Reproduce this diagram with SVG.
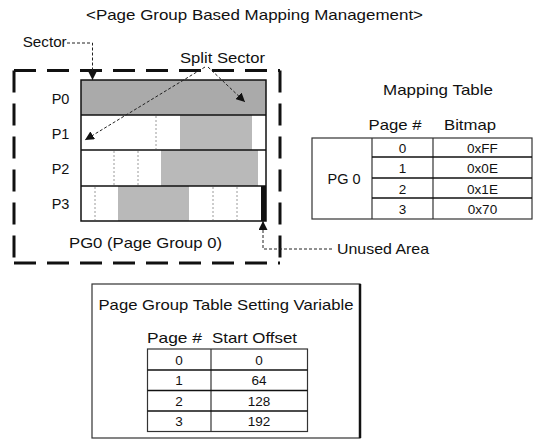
<svg xmlns="http://www.w3.org/2000/svg" width="537" height="440" viewBox="0 0 537 440">
<style>
text{font-family:"Liberation Sans",Arial,sans-serif;font-size:14.5px;fill:#111}
.sm{font-size:13.5px}
.mid{text-anchor:middle}
.grid{fill:none;stroke:#111;stroke-width:1.5}
.shade{fill:#b9b9b9}
.dark{fill:#aaaaaa}
.dot{stroke:#9a9a9a;stroke-width:1;stroke-dasharray:2 2}
.frame{fill:none;stroke:#111;stroke-width:3;stroke-dasharray:22 11}
.conn{fill:none;stroke:#222;stroke-width:1;stroke-dasharray:3 2}
.tbl{fill:none;stroke:#333;stroke-width:1.2}
.row{stroke:#111;stroke-width:1.6}
</style>
<defs>
<marker id="ah" markerUnits="userSpaceOnUse" markerWidth="9" markerHeight="9" viewBox="0 0 10 10" refX="10" refY="5" orient="auto"><path d="M0,0 L10,5 L0,10 z" fill="#111"/></marker>
</defs>

<text id="title" x="254.5" y="20" class="mid" textLength="337" lengthAdjust="spacingAndGlyphs">&lt;Page Group Based Mapping Management&gt;</text>

<g id="frame">
<path class="frame" d="M14,70.5 H280"/>
<path class="frame" d="M14,70.5 V263"/>
<path class="frame" d="M280,70.5 V263"/>
<path class="frame" d="M14,263 H280"/>
</g>

<g id="pg0">
<rect class="dark" x="81" y="80" width="185" height="35"/>
<rect class="shade" x="180" y="115" width="72" height="35"/>
<rect class="shade" x="161" y="150" width="97" height="36"/>
<rect class="shade" x="118" y="186" width="71" height="35"/>
<rect x="261" y="186" width="5" height="35" fill="#111"/>
<line class="dot" x1="156" y1="116" x2="156" y2="149"/>
<line class="dot" x1="114" y1="151" x2="114" y2="185"/>
<line class="dot" x1="138" y1="151" x2="138" y2="185"/>
<line class="dot" x1="95" y1="187" x2="95" y2="220"/>
<line class="dot" x1="213" y1="187" x2="213" y2="220"/>
<line class="dot" x1="237" y1="187" x2="237" y2="220"/>
<rect class="grid" x="81" y="80" width="185" height="141"/>
<line class="grid" x1="81" y1="115" x2="266" y2="115"/>
<line class="grid" x1="81" y1="150" x2="266" y2="150"/>
<line class="grid" x1="81" y1="186" x2="266" y2="186"/>
<text x="60.5" y="103.5" class="mid">P0</text>
<text x="60.5" y="139" class="mid">P1</text>
<text x="60.5" y="174" class="mid">P2</text>
<text x="60.5" y="209" class="mid">P3</text>
<text x="145.5" y="248" class="mid" textLength="153" lengthAdjust="spacingAndGlyphs">PG0 (Page Group 0)</text>
</g>

<g id="sector-label"><text x="22.7" y="47" textLength="44" lengthAdjust="spacingAndGlyphs">Sector</text></g>
<g id="split-label"><text x="180" y="63" textLength="85" lengthAdjust="spacingAndGlyphs">Split Sector</text></g>
<g id="unused-label"><text x="337" y="254" textLength="92" lengthAdjust="spacingAndGlyphs">Unused Area</text></g>

<g id="connectors">
<path class="conn" d="M67,43 H92.5 V80" marker-end="url(#ah)"/>
<path class="conn" d="M208,67 L245,102" marker-end="url(#ah)"/>
<path class="conn" d="M205,67 L85,140" marker-end="url(#ah)"/>
<path class="conn" d="M332,249 H263 V221" marker-end="url(#ah)"/>
</g>

<g id="mapping-table">
<text x="438" y="95" class="mid" textLength="110" lengthAdjust="spacingAndGlyphs">Mapping Table</text>
<text x="395" y="130" class="mid" textLength="53" lengthAdjust="spacingAndGlyphs">Page #</text>
<text x="470" y="130" class="mid" textLength="52" lengthAdjust="spacingAndGlyphs">Bitmap</text>
<rect class="tbl" x="312" y="138" width="220" height="81"/>
<line class="tbl" x1="372" y1="138" x2="372" y2="219"/>
<line class="tbl" x1="433" y1="138" x2="433" y2="219"/>
<line class="row" x1="372" y1="157" x2="532" y2="157"/>
<line class="row" x1="372" y1="178" x2="532" y2="178"/>
<line class="row" x1="372" y1="198" x2="532" y2="198"/>
<text x="344" y="184" class="mid">PG 0</text>
<text x="402.5" y="152.5" class="mid sm">0</text>
<text x="402.5" y="173" class="mid sm">1</text>
<text x="402.5" y="193.5" class="mid sm">2</text>
<text x="402.5" y="214" class="mid sm">3</text>
<text x="482.5" y="152.5" class="mid sm">0xFF</text>
<text x="482.5" y="173" class="mid sm">0x0E</text>
<text x="482.5" y="193.5" class="mid sm">0x1E</text>
<text x="482.5" y="214" class="mid sm">0x70</text>
</g>

<g id="setting-table">
<rect class="tbl" x="92" y="284" width="268" height="154" stroke-width="1.5"/>
<line x1="360" y1="284" x2="360" y2="438" stroke="#111" stroke-width="2.5"/>
<text x="226" y="310" class="mid" textLength="255" lengthAdjust="spacingAndGlyphs">Page Group Table Setting Variable</text>
<text x="174.5" y="343" class="mid" textLength="55" lengthAdjust="spacingAndGlyphs">Page #</text>
<text x="254.5" y="343" class="mid" textLength="85" lengthAdjust="spacingAndGlyphs">Start Offset</text>
<rect class="tbl" x="147.5" y="349" width="160" height="82.5"/>
<line class="tbl" x1="211" y1="349" x2="211" y2="431.5"/>
<line class="row" x1="147.5" y1="370" x2="307.5" y2="370"/>
<line class="row" x1="147.5" y1="390.5" x2="307.5" y2="390.5"/>
<line class="row" x1="147.5" y1="411" x2="307.5" y2="411"/>
<text x="179" y="364.5" class="mid sm">0</text>
<text x="179" y="385" class="mid sm">1</text>
<text x="179" y="405.5" class="mid sm">2</text>
<text x="179" y="426" class="mid sm">3</text>
<text x="259" y="364.5" class="mid sm">0</text>
<text x="259" y="385" class="mid sm">64</text>
<text x="259" y="405.5" class="mid sm">128</text>
<text x="259" y="426" class="mid sm">192</text>
</g>
</svg>
